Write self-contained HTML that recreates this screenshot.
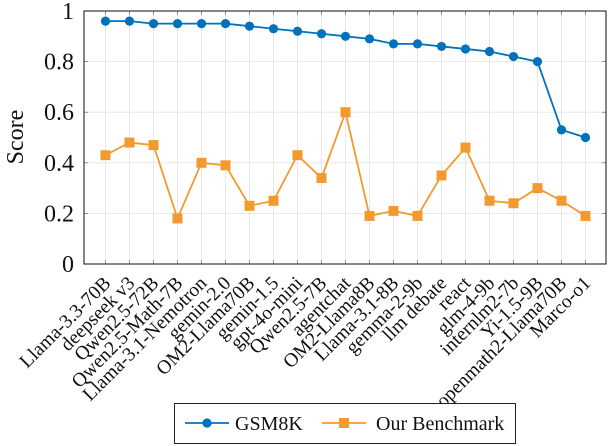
<!DOCTYPE html>
<html><head><meta charset="utf-8"><style>
body{margin:0;background:#fff;}
svg, svg text{font-family:"Liberation Serif",serif;}
svg{display:block;}
</style></head><body>
<svg id="chart" width="608" height="446" viewBox="0 0 608 446" xmlns="http://www.w3.org/2000/svg" font-family="Liberation Serif, serif"></svg>
<script>
const categories=["Llama-3.3-70B","deepseek v3","Qwen2.5-72B","Qwen2.5-Math-7B","Llama-3.1-Nemotron","gemin-2.0","OM2-Llama70B","gemin-1.5","gpt-4o-mini","Qwen2.5-7B","agentchat","OM2-Llama8B","Llama-3.1-8B","gemma-2-9b","llm debate","react","glm-4-9b","internlm2-7b","Yi-1.5-9B","openmath2-Llama70B","Marco-o1"];
const gsm8k=[0.96,0.96,0.95,0.95,0.95,0.95,0.94,0.93,0.92,0.91,0.90,0.89,0.87,0.87,0.86,0.85,0.84,0.82,0.80,0.53,0.50];
const ours=[0.43,0.48,0.47,0.18,0.40,0.39,0.23,0.25,0.43,0.34,0.60,0.19,0.21,0.19,0.35,0.46,0.25,0.24,0.30,0.25,0.19];
const yTicks=[0,0.2,0.4,0.6,0.8,1];
const yTickLabels=["0","0.2","0.4","0.6","0.8","1"];

const svg=document.getElementById('chart');
const NS='http://www.w3.org/2000/svg';
const L=84,R=606,T=11,B=264;
const x0=105.5,dx=24;
const xs=i=>x0+i*dx;
const ys=v=>B-(B-T)*v;
function mk(tag,attrs,parent){const e=document.createElementNS(NS,tag);for(const k in attrs)e.setAttribute(k,attrs[k]);(parent||svg).appendChild(e);return e;}

const grid=mk('g',{});


categories.forEach((c,i)=>{mk('line',{x1:xs(i),x2:xs(i),y1:T,y2:B,stroke:'#e3e3e3','stroke-width':0.8},grid);
 mk('line',{x1:xs(i),x2:xs(i),y1:B,y2:B-4,stroke:'#555','stroke-width':0.6},grid);
 mk('line',{x1:xs(i),x2:xs(i),y1:T,y2:T+4,stroke:'#555','stroke-width':0.6},grid);});
yTicks.forEach((v,i)=>{mk('line',{x1:L,x2:R,y1:ys(v),y2:ys(v),stroke:'#e3e3e3','stroke-width':0.8},grid);
 mk('line',{x1:L,x2:L+4,y1:ys(v),y2:ys(v),stroke:'#555','stroke-width':0.6},grid);
 mk('line',{x1:R,x2:R-4,y1:ys(v),y2:ys(v),stroke:'#555','stroke-width':0.6},grid);
 const t=mk('text',{x:L-10,y:ys(v)+8,'text-anchor':'end','font-size':24,fill:'#111'});
 t.textContent=yTickLabels[i];
 
 });
const frame=mk('rect',{x:L,y:T,width:R-L,height:B-T,fill:'none',stroke:'#222','stroke-width':1.1});



categories.forEach((c,i)=>{const t=mk('text',{transform:`translate(${xs(i)-2},${B+12}) rotate(-45)`,'text-anchor':'end','font-size':19.5,dy:'0.6em',fill:'#111'});
 t.textContent=c;
 
 });

const yl=mk('text',{transform:`translate(23,137) rotate(-90)`,'text-anchor':'middle','font-size':24,fill:'#111'});
yl.textContent='Score';



const BLUE='#0072BD',ORANGE='#F39A2E';
function series(data,color,marker,name){
 const g=mk('g',{});
 
 
 mk('polyline',{points:data.map((v,i)=>xs(i)+','+ys(v)).join(' '),fill:'none',stroke:color,'stroke-width':1.8},g);
 data.forEach((v,i)=>{let m;
  if(marker==='circle')m=mk('circle',{cx:xs(i),cy:ys(v),r:4.6,fill:color},g);
  else m=mk('rect',{x:xs(i)-5,y:ys(v)-5,width:10,height:10,fill:color},g);
  
  });
}
series(gsm8k,BLUE,'circle','gsm8k-series');
series(ours,ORANGE,'square','our-benchmark-series');

const lg=mk('g',{'font-family':'Liberation Serif, serif'});


mk('rect',{x:174.5,y:403.5,width:341,height:40,fill:'#fff',stroke:'#222','stroke-width':1},lg);
mk('line',{x1:185,x2:229,y1:423,y2:423,stroke:BLUE,'stroke-width':1.8},lg);
mk('circle',{cx:207,cy:423,r:4.6,fill:BLUE},lg);
let t=mk('text',{x:235,y:430,'font-size':20,fill:'#111','font-family':'Liberation Serif, serif'},lg);t.textContent='GSM8K';


mk('line',{x1:322,x2:366,y1:423,y2:423,stroke:ORANGE,'stroke-width':1.8},lg);
mk('rect',{x:339,y:418,width:10,height:10,fill:ORANGE},lg);
t=mk('text',{x:376,y:430,'font-size':20,fill:'#111','font-family':'Liberation Serif, serif'},lg);t.textContent='Our Benchmark';


</script>
</body></html>
